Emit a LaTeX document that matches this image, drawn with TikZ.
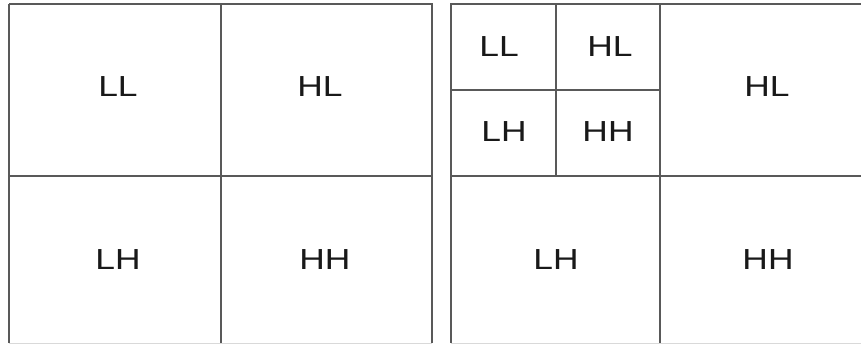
\documentclass[tikz,border=0pt]{standalone}
\usepackage{fontspec}
\setmainfont{Liberation Sans}
\begin{document}
\begin{tikzpicture}[x=1pt,y=-1pt,
  grid/.style={draw=black!65,line width=1.3pt},
  faint/.style={draw=black!15,line width=1pt},
  lbl/.style={inner sep=0pt,font=\fontsize{29}{29}\selectfont,text=black!90}]
\useasboundingbox[fill=white] (0,0) rectangle (861,345);
% left square
\coordinate (l1) at (9,4); \coordinate (l2) at (432,4);
\coordinate (l3) at (432,343); \coordinate (l4) at (9,343);
\draw[grid,line width=2pt] (l4) -- (l1);
\draw[grid] (l1) -- (l2) -- (l3);
\draw[faint] (l3) -- (l4);
\coordinate (lv1) at (221,4); \coordinate (lv2) at (221,343);
\coordinate (lh1) at (9,176); \coordinate (lh2) at (432,176);
\draw[grid] (lv1) -- (lv2);
\draw[grid] (lh1) -- (lh2);
% right square
\coordinate (r1) at (451,4); \coordinate (r2) at (861,4);
\coordinate (r4) at (451,343); \coordinate (r3) at (861,343);
\draw[grid] (r2) -- (r1) -- (r4);
\draw[faint] (r4) -- (r3);
\coordinate (rv1) at (660,4); \coordinate (rv2) at (660,343);
\coordinate (rh1) at (451,176); \coordinate (rh2) at (861,176);
\draw[grid] (rv1) -- (rv2);
\draw[grid] (rh1) -- (rh2);
\coordinate (sv1) at (556,4); \coordinate (sv2) at (556,176);
\coordinate (sh1) at (451,90); \coordinate (sh2) at (660,90);
\draw[grid] (sv1) -- (sv2);
\draw[grid] (sh1) -- (sh2);
% labels
\node[lbl] (aLL) at (118,87) {\scalebox{1.22}[1]{LL}};
\node[lbl] (aHL) at (320,87) {\scalebox{1.22}[1]{HL}};
\node[lbl] (aLH) at (118,260) {\scalebox{1.22}[1]{LH}};
\node[lbl] (aHH) at (325,260) {\scalebox{1.22}[1]{HH}};
\node[lbl] (bLL) at (499,47) {\scalebox{1.22}[1]{LL}};
\node[lbl] (bHL) at (610,47) {\scalebox{1.22}[1]{HL}};
\node[lbl] (bLH) at (504,132) {\scalebox{1.22}[1]{LH}};
\node[lbl] (bHH) at (608,132) {\scalebox{1.22}[1]{HH}};
\node[lbl] (cHL) at (767,87) {\scalebox{1.22}[1]{HL}};
\node[lbl] (cLH) at (556,260) {\scalebox{1.22}[1]{LH}};
\node[lbl] (cHH) at (768,260) {\scalebox{1.22}[1]{HH}};
\end{tikzpicture}
\end{document}
